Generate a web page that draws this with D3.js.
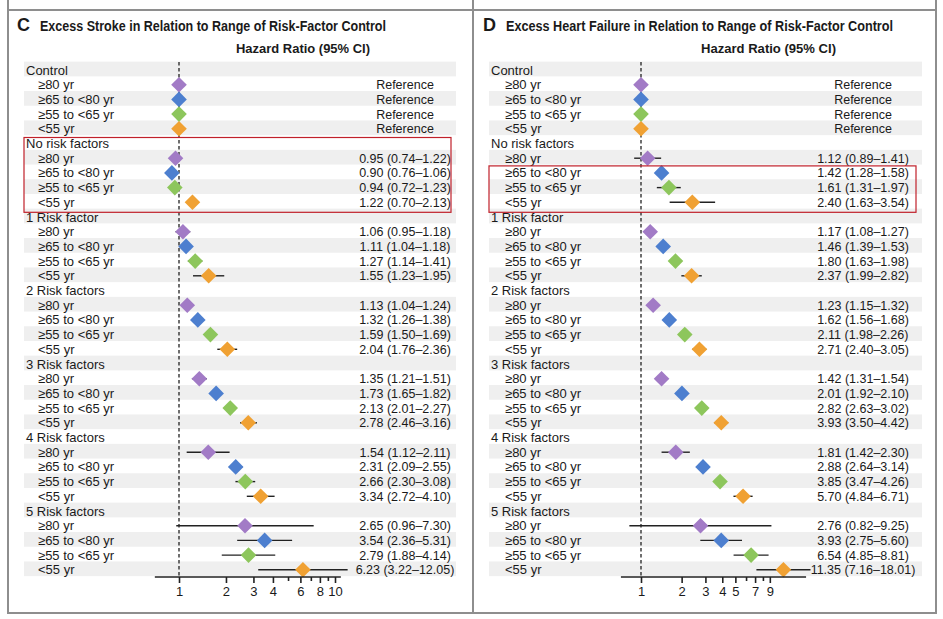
<!DOCTYPE html>
<html>
<head>
<meta charset="utf-8">
<script src="https://cdn.jsdelivr.net/npm/d3@7/dist/d3.min.js"></script>
<style>
  html, body { margin: 0; padding: 0; background: #fff; }
  svg { display: block; }
  text { font-family: "Liberation Sans", Arial, sans-serif; fill: #1a1a1a; }
</style>
</head>
<body>
<svg id="chart" width="943" height="619"></svg>
<script>
// ---------------- DATA ----------------
const groups = ["Control", "No risk factors", "1 Risk factor", "2 Risk factors", "3 Risk factors", "4 Risk factors", "5 Risk factors"];
const ages = ["≥80 yr", "≥65 to <80 yr", "≥55 to <65 yr", "<55 yr"];
const ageColors = ["#a27bc6", "#4d7fcf", "#8dc65c", "#f0a133"];

// Panel C: stroke
const strokeHR = [
  [1, 1, 1, 1],
  [0.95, 0.90, 0.94, 1.22],
  [1.06, 1.11, 1.27, 1.55],
  [1.13, 1.32, 1.59, 2.04],
  [1.35, 1.73, 2.13, 2.78],
  [1.54, 2.31, 2.66, 3.34],
  [2.65, 3.54, 2.79, 6.23]
];
const strokeLo = [
  [1, 1, 1, 1],
  [0.74, 0.76, 0.72, 0.70],
  [0.95, 1.04, 1.14, 1.23],
  [1.04, 1.26, 1.50, 1.76],
  [1.21, 1.65, 2.01, 2.46],
  [1.12, 2.09, 2.30, 2.72],
  [0.96, 2.36, 1.88, 3.22]
];
const strokeHi = [
  [1, 1, 1, 1],
  [1.22, 1.06, 1.23, 2.13],
  [1.18, 1.18, 1.41, 1.95],
  [1.24, 1.38, 1.69, 2.36],
  [1.51, 1.82, 2.27, 3.16],
  [2.11, 2.55, 3.08, 4.10],
  [7.30, 5.31, 4.14, 12.05]
];
const strokeWhiskersDrawn = [false, false, true, true, true, true, true];
const strokeTicks = [1, 2, 3, 4, 6, 8, 10];
const strokeMinorTicks = [5, 7, 9];
const strokeAxisExtent = [0.70, 10.9];

// Panel D: heart failure
const hfHR = [
  [1, 1, 1, 1],
  [1.12, 1.42, 1.61, 2.40],
  [1.17, 1.46, 1.80, 2.37],
  [1.23, 1.62, 2.11, 2.71],
  [1.42, 2.01, 2.82, 3.93],
  [1.81, 2.88, 3.85, 5.70],
  [2.76, 3.93, 6.54, 11.35]
];
const hfLo = [
  [1, 1, 1, 1],
  [0.89, 1.28, 1.31, 1.63],
  [1.08, 1.39, 1.63, 1.99],
  [1.15, 1.56, 1.98, 2.40],
  [1.31, 1.92, 2.63, 3.50],
  [1.42, 2.64, 3.47, 4.84],
  [0.82, 2.75, 4.85, 7.16]
];
const hfHi = [
  [1, 1, 1, 1],
  [1.41, 1.58, 1.97, 3.54],
  [1.27, 1.53, 1.98, 2.82],
  [1.32, 1.68, 2.26, 3.05],
  [1.54, 2.10, 3.02, 4.42],
  [2.30, 3.14, 4.26, 6.71],
  [9.25, 5.60, 8.81, 18.01]
];
const hfWhiskersDrawn = [false, true, true, true, true, true, true];
const hfTicks = [1, 2, 3, 4, 5, 7, 9];
const hfMinorTicks = [6, 8];
const hfAxisExtent = [0.71, 16.7];

// ---------------- LAYOUT ----------------
const svg = d3.select("#chart");
svg.append("rect").attr("width", 943).attr("height", 619).attr("fill", "#fff");

const rowStep = 14.7;
const firstRowY = 70;
const rowY = i => firstRowY + i * rowStep;
const axisY = 577;

const panels = [
  {
    letter: "C", title: "Excess Stroke in Relation to Range of Risk-Factor Control",
    letterX: 17, titleX: 40, titleLen: 346,
    hrX: 236, hrLen: 134,
    stripeX0: 24, stripeX1: 456,
    labelX: 26, indentX: 38, valueX: 405,
    scaleRange: [179, 335],
    hr: strokeHR, lo: strokeLo, hi: strokeHi, whisk: strokeWhiskersDrawn,
    ticks: strokeTicks, minor: strokeMinorTicks, extent: strokeAxisExtent,
    box: { x0: 24, x1: 451, r0: 5, r1: 9, topPad: 6, botPad: 10 }
  },
  {
    letter: "D", title: "Excess Heart Failure in Relation to Range of Risk-Factor Control",
    letterX: 483, titleX: 506, titleLen: 387,
    hrX: 701, hrLen: 135,
    stripeX0: 489, stripeX1: 922,
    labelX: 491, indentX: 505, valueX: 863,
    scaleRange: [641, 776],
    hr: hfHR, lo: hfLo, hi: hfHi, whisk: hfWhiskersDrawn,
    ticks: hfTicks, minor: hfMinorTicks, extent: hfAxisExtent,
    box: { x0: 489, x1: 916, r0: 7, r1: 9, topPad: 7, botPad: 10 }
  }
];

const fmt = d3.format(".2f");

panels.forEach(p => {
  const g = svg.append("g");
  const x = d3.scaleLog().domain([1, 10]).range(p.scaleRange);

  // build rows
  const rows = [];
  groups.forEach((grp, gi) => {
    rows.push({ type: "header", label: grp });
    ages.forEach((a, ai) => {
      rows.push({
        type: "item", label: a, gi, ai,
        hr: p.hr[gi][ai], lo: p.lo[gi][ai], hi: p.hi[gi][ai],
        whisker: p.whisk[gi],
        text: gi === 0 ? "Reference" : `${fmt(p.hr[gi][ai])} (${fmt(p.lo[gi][ai])}–${fmt(p.hi[gi][ai])})`
      });
    });
  });
  rows.forEach((r, i) => r.y = rowY(i));

  // stripes
  g.selectAll("rect.stripe").data(rows.filter((r, i) => i % 2 === 0)).join("rect")
    .attr("class", "stripe")
    .attr("x", p.stripeX0).attr("width", p.stripeX1 - p.stripeX0)
    .attr("y", d => d.y - rowStep / 2 - 1).attr("height", rowStep)
    .attr("fill", "#efefef");

  // titles
  g.append("text").attr("x", p.letterX).attr("y", 31)
    .attr("font-size", 18).attr("font-weight", "bold").text(p.letter);
  g.append("text").attr("x", p.titleX).attr("y", 31)
    .attr("font-size", 14).attr("font-weight", "bold")
    .attr("textLength", p.titleLen).attr("lengthAdjust", "spacingAndGlyphs")
    .text(p.title);
  g.append("text").attr("x", p.hrX).attr("y", 53)
    .attr("font-size", 13.5).attr("font-weight", "bold")
    .attr("textLength", p.hrLen).attr("lengthAdjust", "spacingAndGlyphs")
    .text("Hazard Ratio (95% CI)");

  // row labels
  g.selectAll("text.lab").data(rows).join("text")
    .attr("class", "lab")
    .attr("x", d => d.type === "header" ? p.labelX : p.indentX)
    .attr("y", d => d.y + 4.5)
    .attr("font-size", 13)
    .text(d => d.label);

  // values
  g.selectAll("text.val").data(rows.filter(r => r.type === "item")).join("text")
    .attr("class", "val")
    .attr("x", p.valueX).attr("y", d => d.y + 4.5)
    .attr("text-anchor", "middle")
    .attr("font-size", 12.5)
    .text(d => d.text);

  // dashed reference line
  g.append("line")
    .attr("x1", x(1)).attr("x2", x(1))
    .attr("y1", rowY(0) - 8).attr("y2", axisY)
    .attr("stroke", "#222").attr("stroke-width", 1.3)
    .attr("stroke-dasharray", "3.5,2.5");

  const items = rows.filter(r => r.type === "item");

  // whiskers
  g.selectAll("line.ci").data(items.filter(d => d.whisker)).join("line")
    .attr("class", "ci")
    .attr("x1", d => x(d.lo)).attr("x2", d => x(d.hi))
    .attr("y1", d => d.y).attr("y2", d => d.y)
    .attr("stroke", "#222").attr("stroke-width", 1.4);

  // diamonds
  const h = 7.8;
  g.selectAll("path.pt").data(items).join("path")
    .attr("class", "pt")
    .attr("d", d => {
      const cx = x(d.hr), cy = d.y;
      return `M${cx},${cy - h}L${cx + h},${cy}L${cx},${cy + h}L${cx - h},${cy}Z`;
    })
    .attr("fill", d => ageColors[d.ai]);

  // axis
  const ax = g.append("g").attr("transform", `translate(0,${axisY})`);
  ax.call(d3.axisBottom(x).tickValues(p.ticks).tickFormat(d3.format("d")).tickSize(6).tickPadding(4));
  const axMinor = g.append("g").attr("transform", `translate(0,${axisY})`);
  axMinor.call(d3.axisBottom(x).tickValues(p.minor).tickFormat("").tickSize(4));
  [ax, axMinor].forEach(a => {
    a.select(".domain").remove();
    a.selectAll(".tick line").attr("stroke", "#222").attr("stroke-width", 1.6);
    a.selectAll(".tick text").attr("font-size", 13).attr("fill", "#1a1a1a")
      .attr("font-family", "'Liberation Sans', Arial, sans-serif");
  });
  g.append("line")
    .attr("x1", x(p.extent[0])).attr("x2", x(p.extent[1]))
    .attr("y1", axisY).attr("y2", axisY)
    .attr("stroke", "#222").attr("stroke-width", 1.6);

  // red highlight box
  g.append("rect")
    .attr("x", p.box.x0).attr("width", p.box.x1 - p.box.x0)
    .attr("y", rowY(p.box.r0) - p.box.topPad)
    .attr("height", rowY(p.box.r1) + p.box.botPad - (rowY(p.box.r0) - p.box.topPad))
    .attr("fill", "none").attr("stroke", "#c0202a").attr("stroke-width", 1.2);
});

// frame lines
const frame = svg.append("g").attr("stroke", "#8e8e8e").attr("stroke-width", 2);
[8, 473, 936].forEach(xx => frame.append("line").attr("x1", xx).attr("x2", xx).attr("y1", 0).attr("y2", 614));
[10, 613].forEach(yy => frame.append("line").attr("x1", 7).attr("x2", 937).attr("y1", yy).attr("y2", yy));
</script>
</body>
</html>
